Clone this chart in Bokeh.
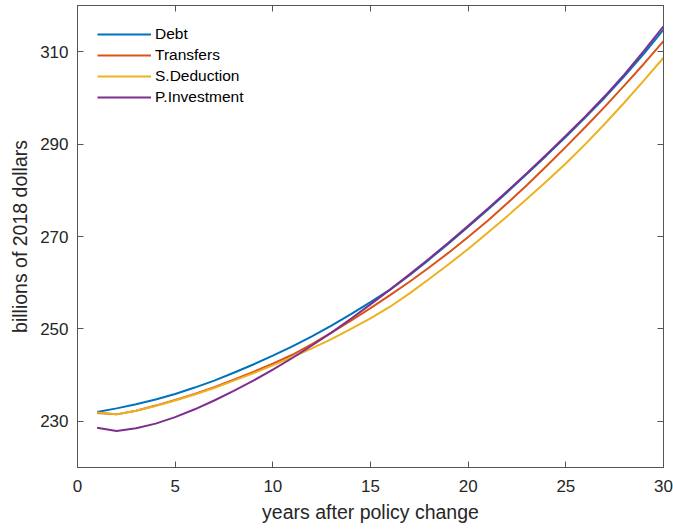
from bokeh.plotting import figure
from bokeh.models import (Range1d, FixedTicker, LinearAxis, Legend, LegendItem,
                          CustomLabelingPolicy)
from bokeh.embed import file_html
from bokeh.resources import INLINE

years = list(range(1, 31))

debt = [232.0, 232.8, 233.7, 234.7, 235.9, 237.3, 238.8, 240.5, 242.3, 244.2,
        246.2, 248.4, 250.7, 253.2, 255.8, 258.5, 261.6, 265.0, 268.5, 272.1,
        275.8, 279.6, 283.5, 287.5, 291.6, 295.8, 300.1, 304.7, 309.6, 314.8]

transfers = [231.8, 231.5, 232.3, 233.4, 234.6, 235.9, 237.4, 239.0, 240.7, 242.5,
             244.4, 246.7, 249.2, 251.8, 254.5, 257.3, 260.2, 263.3, 266.5, 269.9,
             273.4, 277.2, 281.1, 285.2, 289.4, 293.7, 298.1, 302.7, 307.4, 312.3]

s_deduction = [231.9, 231.5, 232.3, 233.3, 234.5, 235.8, 237.2, 238.8, 240.4, 242.1,
               243.9, 245.8, 247.8, 250.0, 252.3, 254.8, 257.7, 260.8, 264.0, 267.3,
               270.8, 274.4, 278.1, 281.9, 285.8, 290.0, 294.4, 299.0, 303.8, 308.7]

p_investment = [228.6, 227.9, 228.5, 229.5, 230.9, 232.6, 234.5, 236.6, 238.8, 241.2,
                243.7, 246.4, 249.2, 252.2, 255.3, 258.5, 261.8, 265.2, 268.7, 272.3,
                276.0, 279.8, 283.7, 287.7, 291.8, 296.0, 300.4, 305.1, 310.2, 315.5]

series_names = ["Debt", "Transfers", "S.Deduction", "P.Investment"]
series_values = [debt, transfers, s_deduction, p_investment]
series_colors = ["#0072BD", "#D95319", "#EDB120", "#7E2F8E"]

x_ticks = [0, 5, 10, 15, 20, 25, 30]
y_ticks = [230, 250, 270, 290, 310]

TEXT = "#262626"
AXIS = "#555555"
FONT = "Liberation Sans"

p = figure(width=673, height=531, output_backend="svg", toolbar_location=None,
           x_range=Range1d(0, 30), y_range=Range1d(220, 320),
           min_border_left=77, min_border_right=10, min_border_top=5,
           min_border_bottom=64)

p.grid.visible = False
p.outline_line_color = AXIS
p.outline_line_width = 1
p.background_fill_color = "white"
p.border_fill_color = "white"

items = []
for name, vals, col in zip(series_names, series_values, series_colors):
    r = p.line(years, vals, line_color=col, line_width=2)
    items.append(LegendItem(label=name, renderers=[r]))

# box-side axes carry inward ticks only, no labels
no_labels = CustomLabelingPolicy(
    code="const ids = [...indices]; for (const i of ids) indices.unset(i); return indices;")

def style_axis(ax, ticks, labels=True):
    ax.ticker = FixedTicker(ticks=ticks)
    ax.minor_tick_line_color = None
    ax.major_tick_in = 6
    ax.major_tick_out = 0
    ax.axis_line_color = AXIS
    ax.major_tick_line_color = AXIS
    if labels:
        ax.major_label_text_font = FONT
        ax.major_label_text_font_size = "17px"
        ax.major_label_text_color = TEXT
        ax.axis_label_text_font = FONT
        ax.axis_label_text_font_size = "19.5px"
        ax.axis_label_text_color = TEXT
        ax.axis_label_text_font_style = "normal"
    else:
        ax.major_label_text_font_size = "0px"
        ax.major_label_standoff = 0
        ax.major_label_policy = no_labels

style_axis(p.xaxis[0], x_ticks)
style_axis(p.yaxis[0], y_ticks)
p.xaxis[0].axis_label = "years after policy change"
p.yaxis[0].axis_label = "billions of 2018 dollars"
p.xaxis[0].major_label_standoff = 12
p.xaxis[0].axis_label_standoff = 6
p.yaxis[0].major_label_standoff = 9
p.yaxis[0].axis_label_standoff = 6

top_axis = LinearAxis()
style_axis(top_axis, x_ticks, labels=False)
p.add_layout(top_axis, "above")
right_axis = LinearAxis()
style_axis(right_axis, y_ticks, labels=False)
p.add_layout(right_axis, "right")

legend = Legend(items=items, location="top_left")
legend.border_line_color = None
legend.background_fill_alpha = 0
legend.label_text_font = FONT
legend.label_text_font_size = "15.5px"
legend.label_text_color = "#000000"
legend.glyph_width = 54
legend.glyph_height = 18
legend.label_height = 18
legend.spacing = 3
legend.margin = 20
legend.padding = 10
legend.label_standoff = 4
p.add_layout(legend, "center")

open("out.html", "w").write(file_html(p, INLINE))
